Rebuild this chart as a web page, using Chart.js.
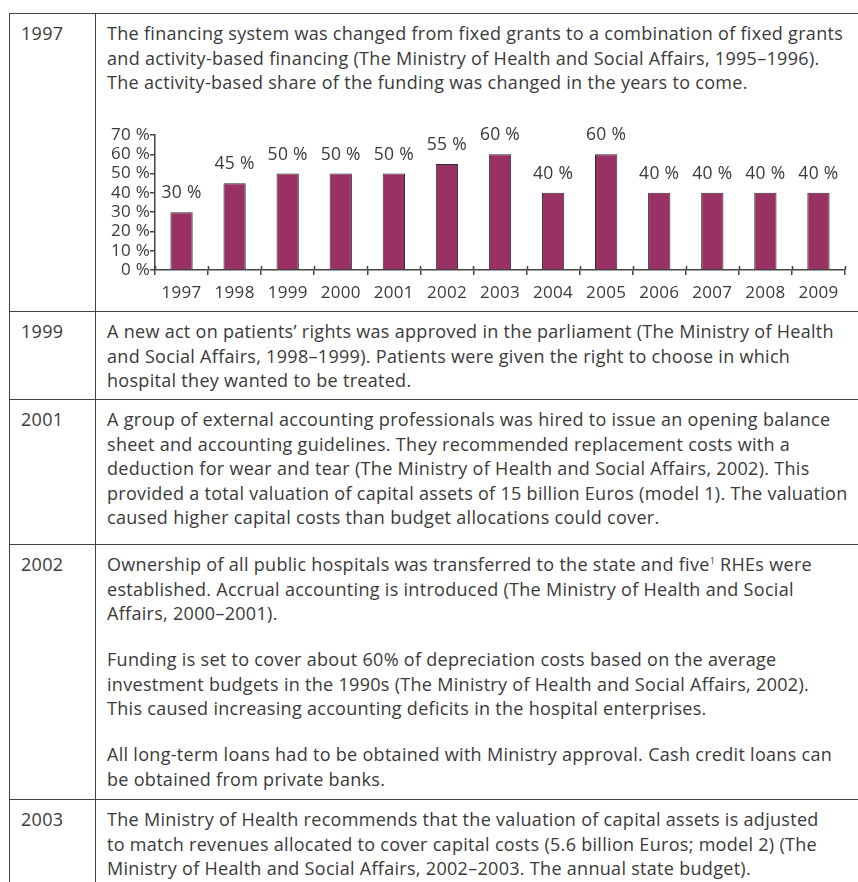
<!DOCTYPE html>
<html>
<head>
<meta charset="utf-8">
<script src="https://cdn.jsdelivr.net/npm/chart.js@4.4.0/dist/chart.umd.min.js"></script>
<style>
  html, body { margin: 0; padding: 0; background: #fff; }
  body { width: 858px; height: 882px; position: relative; overflow: hidden;
         font-family: "Open Sans", sans-serif; font-size: 18px; letter-spacing: 0.3px; color: #3a3a3a; }
  .hline { position: absolute; left: 9px; right: 0; height: 0; border-top: 1.5px solid #444; }
  .vline { position: absolute; top: 13px; bottom: 0; width: 0; border-left: 1.5px solid #444; }
  .year { position: absolute; left: 21px; line-height: 24.5px; }
  .txt { position: absolute; left: 107px; line-height: 24.5px; white-space: nowrap; }
  sup { font-size: 9px; vertical-align: 7px; line-height: 0; }
  #chartBox { position: absolute; left: 100px; top: 112px; width: 758px; height: 200px; }
</style>
</head>
<body>
<div class="hline" style="top:13px"></div>
<div class="hline" style="top:311px"></div>
<div class="hline" style="top:399px"></div>
<div class="hline" style="top:544px"></div>
<div class="hline" style="top:799px"></div>
<div class="vline" style="left:9px"></div>
<div class="vline" style="left:95px"></div>

<div class="year" style="top:21px">1997</div>
<div class="txt" style="top:21px">The financing system was changed from fixed grants to a combination of fixed grants<br>and activity-based financing (The Ministry of Health and Social Affairs, 1995–1996).<br>The activity-based share of the funding was changed in the years to come.</div>

<div id="chartBox"><canvas id="shareChart" width="758" height="200"></canvas></div>

<div class="year" style="top:319px">1999</div>
<div class="txt" style="top:319px">A new act on patients’ rights was approved in the parliament (The Ministry of Health<br>and Social Affairs, 1998–1999). Patients were given the right to choose in which<br>hospital they wanted to be treated.</div>

<div class="year" style="top:407px">2001</div>
<div class="txt" style="top:407px">A group of external accounting professionals was hired to issue an opening balance<br>sheet and accounting guidelines. They recommended replacement costs with a<br>deduction for wear and tear (The Ministry of Health and Social Affairs, 2002). This<br>provided a total valuation of capital assets of 15 billion Euros (model 1). The valuation<br>caused higher capital costs than budget allocations could cover.</div>

<div class="year" style="top:552px">2002</div>
<div class="txt" style="top:552px">Ownership of all public hospitals was transferred to the state and five<sup>1</sup> RHEs were<br>established. Accrual accounting is introduced (The Ministry of Health and Social<br>Affairs, 2000–2001).</div>
<div class="txt" style="top:647px">Funding is set to cover about 60% of depreciation costs based on the average<br>investment budgets in the 1990s (The Ministry of Health and Social Affairs, 2002).<br>This caused increasing accounting deficits in the hospital enterprises.</div>
<div class="txt" style="top:742px">All long-term loans had to be obtained with Ministry approval. Cash credit loans can<br>be obtained from private banks.</div>

<div class="year" style="top:807px">2003</div>
<div class="txt" style="top:807px">The Ministry of Health recommends that the valuation of capital assets is adjusted<br>to match revenues allocated to cover capital costs (5.6 billion Euros; model 2) (The<br>Ministry of Health and Social Affairs, 2002–2003. The annual state budget).</div>

<script>
// Andel aktivitetsbasert finansiering per år
const years = ['1997', '1998', '1999', '2000', '2001', '2002', '2003', '2004', '2005', '2006', '2007', '2008', '2009'];
const activityShare = [30, 45, 50, 50, 50, 55, 60, 40, 60, 40, 40, 40, 40];
const yTicks = [0, 10, 20, 30, 40, 50, 60, 70];

const textColor = '#3a3a3a';
const axisColor = '#444';
const labelFont = { family: 'Open Sans', size: 17 };

// Verdietiketter over søylene
const valueLabels = {
    id: 'valueLabels',
    afterDatasetsDraw(chart) {
        const ctx = chart.ctx;
        const meta = chart.getDatasetMeta(0);
        ctx.save();
        ctx.font = '17.5px "Open Sans"';
        ctx.fillStyle = textColor;
        ctx.textAlign = 'center';
        ctx.textBaseline = 'middle';
        meta.data.forEach((bar, i) => {
            ctx.fillText(activityShare[i] + ' %', bar.x, bar.y - 19);
        });
        ctx.restore();
    }
};

// Små streker som krysser x-aksen mellom kategoriene
const crossTicks = {
    id: 'crossTicks',
    afterDraw(chart) {
        const x = chart.scales.x;
        const ctx = chart.ctx;
        const half = (x.getPixelForValue(1) - x.getPixelForValue(0)) / 2;
        ctx.save();
        ctx.strokeStyle = axisColor;
        ctx.lineWidth = 1.5;
        ctx.beginPath();
        for (let i = 0; i <= years.length; i++) {
            const px = Math.round(x.getPixelForValue(i) - half) + 0.5;
            ctx.moveTo(px, x.top - 4);
            ctx.lineTo(px, x.top);
        }
        ctx.stroke();
        ctx.restore();
    }
};

const ctx = document.getElementById('shareChart').getContext('2d');
new Chart(ctx, {
    type: 'bar',
    data: {
        labels: years,
        datasets: [{
            data: activityShare,
            backgroundColor: '#9a3164',
            borderColor: '#2e2e2e',
            borderWidth: 1,
            barPercentage: 0.84,
            categoryPercentage: 0.5
        }]
    },
    options: {
        responsive: false,
        animation: false,
        devicePixelRatio: 1,
        layout: { padding: { top: 23, right: 13, left: 0, bottom: 0 } },
        plugins: {
            legend: { display: false },
            tooltip: { enabled: false }
        },
        scales: {
            x: {
                offset: true,
                afterFit: scale => { scale.height = 42; },
                grid: {
                    offset: true,
                    drawOnChartArea: false,
                    drawTicks: true,
                    tickLength: 5,
                    color: axisColor,
                    lineWidth: 1.5
                },
                border: { color: axisColor, width: 1.5 },
                ticks: { color: textColor, font: labelFont, padding: 8, maxRotation: 0 }
            },
            y: {
                min: 0,
                max: 70,
                afterFit: scale => { scale.width = 55; },
                afterBuildTicks: scale => { scale.ticks = yTicks.map(v => ({ value: v })); },
                grid: {
                    drawOnChartArea: false,
                    drawTicks: true,
                    tickLength: 5,
                    color: axisColor,
                    lineWidth: 1.5
                },
                border: { color: axisColor, width: 1.5 },
                ticks: {
                    color: textColor,
                    font: { family: 'Open Sans', size: 17 },
                    padding: 0,
                    autoSkip: false,
                    callback: v => v + ' %'
                }
            }
        }
    },
    plugins: [valueLabels, crossTicks]
});
</script>
</body>
</html>
